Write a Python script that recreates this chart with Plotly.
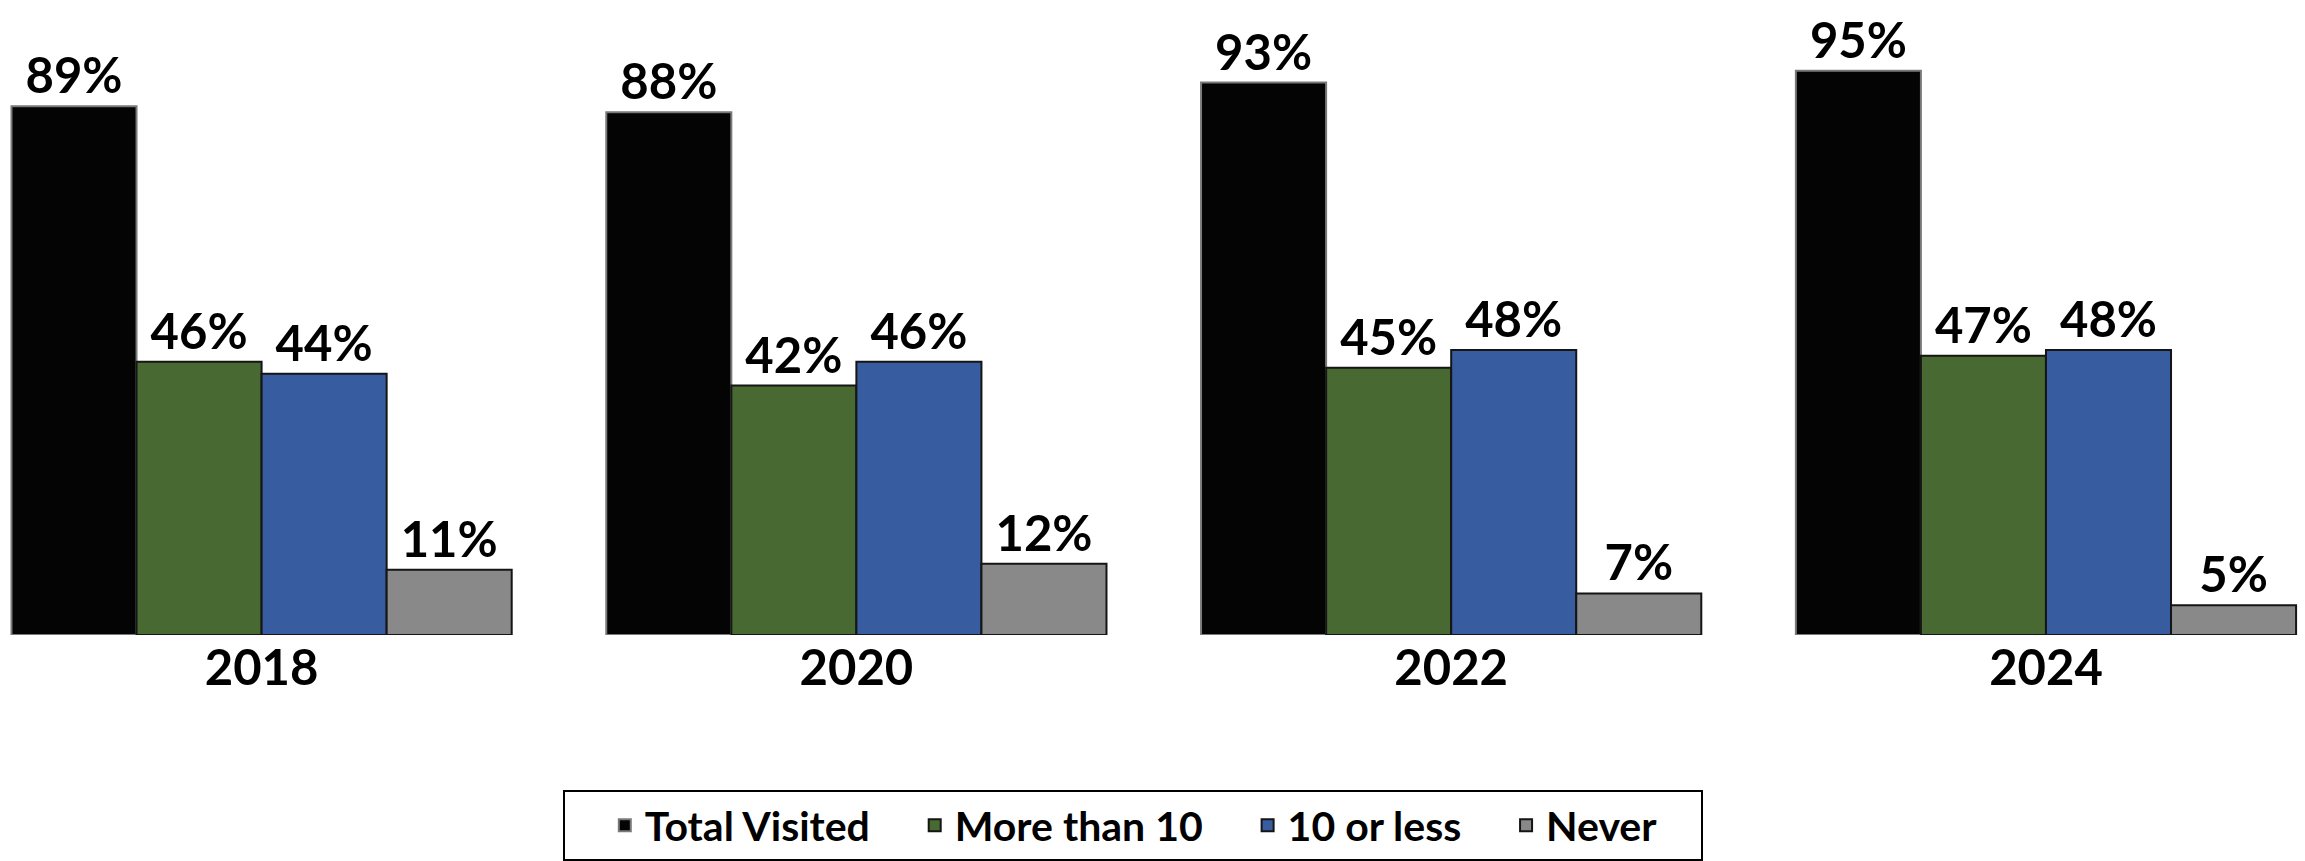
import plotly.graph_objects as go

years = ["2018", "2020", "2022", "2024"]
series_names = ["Total Visited", "More than 10", "10 or less", "Never"]
total_visited = [89, 88, 93, 95]
more_than_10 = [46, 42, 45, 47]
ten_or_less = [44, 46, 48, 48]
never = [11, 12, 7, 5]

colors = ["#040404", "#486A32", "#375DA0", "#898989"]
line_colors = ["#7a7a7a", "#151515", "#151515", "#151515"]

FONT = "Lato"
PAD = "\u00a0" * 4

fig = go.Figure()
for name, vals, c, lc in zip(series_names, [total_visited, more_than_10, ten_or_less, never], colors, line_colors):
    fig.add_trace(go.Bar(
        name=name + PAD, x=years, y=vals,
        marker=dict(color=c, line=dict(color=lc, width=2)),
        text=[f"{v}%" for v in vals], textposition="outside",
        textfont=dict(family=FONT, size=49, color="black", weight="bold"),
        cliponaxis=False,
    ))

fig.update_layout(
    width=2305, height=861,
    paper_bgcolor="white", plot_bgcolor="white",
    barmode="group", bargap=0.159, bargroupgap=0,
    margin=dict(l=0, r=0, t=41, b=219),
    showlegend=True,
    legend=dict(
        orientation="h", x=0.4915, xanchor="center", y=-0.262, yanchor="top",
        bordercolor="black", borderwidth=2,
        font=dict(family=FONT, size=41, color="black", weight="bold"),
        title=dict(text="\u00a0" * 3, side="left", font=dict(family=FONT, size=41)),
        traceorder="normal",
    ),
    xaxis=dict(
        type="category", range=[-0.4398, 3.4355],
        showgrid=False, showline=False, ticks="", zeroline=False,
        tickfont=dict(family=FONT, size=49, color="black", weight="bold"),
    ),
    yaxis=dict(range=[0, 100], visible=False, showgrid=False, zeroline=False),
)

fig.write_html("out.html")
